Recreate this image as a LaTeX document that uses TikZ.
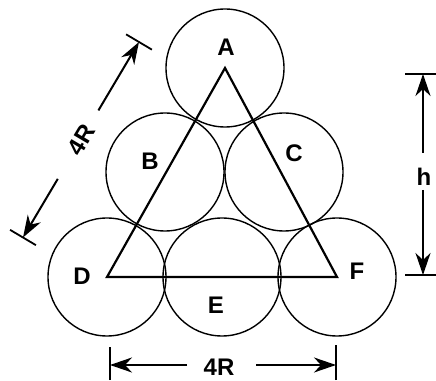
\documentclass[tikz,border=0pt]{standalone}
\usepackage{fontspec}
\setmainfont{Liberation Sans}
\usetikzlibrary{arrows.meta,calc}
\begin{document}
\begin{tikzpicture}[x=1pt,y=1pt,
  ball/.style={draw,line width=1.4pt,circle,minimum size=118pt,inner sep=0pt},
  lbl/.style={font=\fontsize{24}{26}\selectfont\bfseries,inner sep=0pt},
  dimarrow/.style={line width=2pt,-{Stealth[length=22pt,width=15pt,inset=7pt]}},
  dimbar/.style={line width=1.8pt}]
\useasboundingbox (0,0) rectangle (436,380);
% the six balls
\node[ball] (A) at (225,312) {};
\node[ball] (B) at (165,208) {};
\node[ball] (C) at (284,208) {};
\node[ball] (D) at (107,103) {};
\node[ball] (E) at (222,103) {};
\node[ball] (F) at (337,103) {};
\draw[line width=2.2pt,line join=miter] (A.center) -- (D.center) -- (F.center) -- cycle;
\node[lbl] (labA) at (226,332.5) {A};
\node[lbl] (labB) at (150,219) {B};
\node[lbl] (labC) at (294,227) {C};
\node[lbl] (labD) at (82,103.5) {D};
\node[lbl] (labE) at (216,75) {E};
\node[lbl] (labF) at (357,108.5) {F};
% slanted 4R
\coordinate (l1) at (23,142.5);
\coordinate (l2) at (139,338);
\coordinate (l1s) at ($(l1)!0.30!(l2)$);
\coordinate (l2s) at ($(l1)!0.65!(l2)$);
\path (l1) -- node[lbl,sloped] (lab4Rl) {4R} (l2);
\draw[dimarrow] (l1s) -- (l1);
\draw[dimarrow] (l2s) -- (l2);
\draw[dimbar] ($(l1)!15pt!90:(l2)$) -- ($(l1)!15pt!-90:(l2)$);
\draw[dimbar] ($(l2)!15pt!90:(l1)$) -- ($(l2)!15pt!-90:(l1)$);
% bottom 4R
\node[lbl] (lab4Rb) at (219,12.5) {4R};
\coordinate (b1) at (110,15);
\coordinate (b2) at (336,15);
\coordinate (b1s) at (187,15);
\coordinate (b2s) at (256,15);
\draw[dimarrow] (b1s) -- (b1);
\draw[dimarrow] (b2s) -- (b2);
\draw[dimbar] (110,0) -- (110,33);
\draw[dimbar] (336,0) -- (336,35);
% height h
\node[lbl] (labh) at (424,203) {h};
\coordinate (h1) at (423,306);
\coordinate (h2) at (423,105);
\coordinate (h1s) at (423,227);
\coordinate (h2s) at (423,190);
\draw[dimarrow] (h1s) -- (h1);
\draw[dimarrow] (h2s) -- (h2);
\draw[dimbar] (405,306) -- (436,306);
\draw[dimbar] (405,105) -- (436,105);
\end{tikzpicture}
\end{document}
